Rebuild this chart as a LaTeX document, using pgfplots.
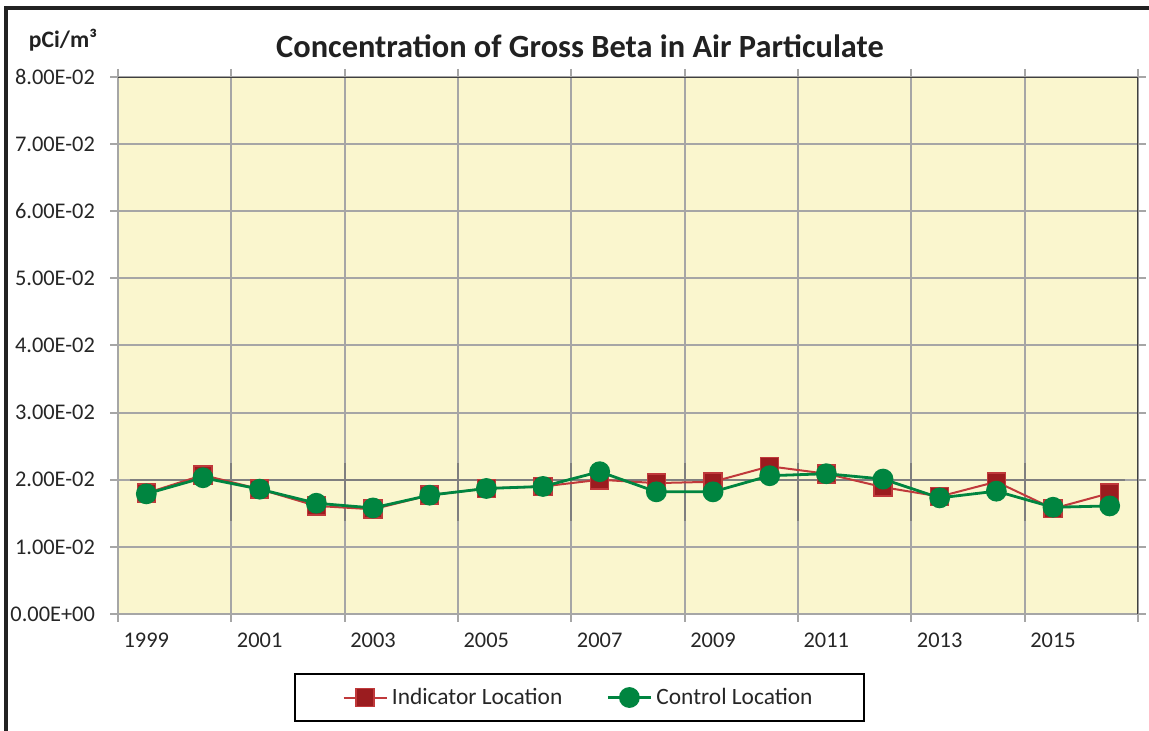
\documentclass[border=0pt]{standalone}
\usepackage{pgfplots}
\pgfplotsset{compat=1.18}
\usepackage{fontspec}
\setmainfont{Carlito}
\definecolor{bgyellow}{HTML}{FAF6CE}
\definecolor{gridgray}{HTML}{A6A6A6}
\definecolor{darkgridgray}{HTML}{7F7F7F}
\definecolor{redline}{HTML}{C0393B}
\definecolor{redfill}{HTML}{9B1C1F}
\definecolor{greenc}{HTML}{008540}
\definecolor{framec}{HTML}{222222}
\begin{document}
\begin{tikzpicture}
\path[use as bounding box] (-59pt,-58.5pt) rectangle (515.5pt,307pt);
\begin{axis}[
  at={(0,0)}, anchor=south west,
  scale only axis, width=510pt, height=268.5pt,
  xmin=1998.5, xmax=2016.5, ymin=0, ymax=0.08,
  scaled y ticks=false,
  xtick={1998.5,2000.5,2002.5,2004.5,2006.5,2008.5,2010.5,2012.5,2014.5,2016.5},
  xticklabels={},
  ytick={0,0.01,0.02,0.03,0.04,0.05,0.06,0.07,0.08},
  yticklabels={0.00E+00,1.00E-02,2.00E-02,3.00E-02,4.00E-02,5.00E-02,6.00E-02,7.00E-02,8.00E-02},
  extra x ticks={1999,2001,2003,2005,2007,2009,2011,2013,2015},
  extra x tick labels={1999,2001,2003,2005,2007,2009,2011,2013,2015},
  extra x tick style={grid=none, major tick length=0pt},
  grid=major,
  major grid style={line width=1pt, color=gridgray},
  axis line style={line width=1pt, color=gridgray},
  tick style={line width=1pt, color=gridgray},
  major tick length=4pt,
  tick align=outside,
  axis background/.style={fill=bgyellow},
  ticklabel style={font=\fontsize{11.2}{13}\selectfont, text=black!85},
  yticklabel style={anchor=east, xshift=-4pt},
  xticklabel style={anchor=north, yshift=-6pt},
  legend columns=2,
  legend style={at={(0.4525,-0.1555)}, anchor=center, draw=black, line width=1pt,
    font=\fontsize{11.7}{14}\selectfont, text=black!85,
    inner xsep=24pt, inner ysep=5pt,
    /tikz/every even column/.append style={column sep=20pt}},
  legend image code/.code={\draw[mark repeat=2,mark phase=2] plot coordinates {(0cm,0cm) (0.38cm,0cm) (0.76cm,0cm)};},
]
\draw[line width=1pt, darkgridgray] (axis cs:1998.71,0.02) -- (axis cs:2016.27,0.02);
\pgfplotsinvokeforeach{2000.5,2002.5,2004.5,2006.5,2008.5,2010.5,2012.5,2014.5}{
  \draw[line width=1pt, darkgridgray] (axis cs:#1,0.0225) -- (axis cs:#1,0.01385);
}
\draw[line width=1pt, black!75] (rel axis cs:0,1) -- (rel axis cs:1,1) -- (rel axis cs:1,0);
\addplot[color=redline, line width=1pt, mark=square*, mark size=4.5pt,
  mark options={fill=redfill, draw=redline, line width=0.8pt}]
  coordinates {(1999,0.0180) (2000,0.0207) (2001,0.0186) (2002,0.0161) (2003,0.0156)
  (2004,0.0177) (2005,0.0187) (2006,0.0190) (2007,0.0200) (2008,0.0195) (2009,0.0197)
  (2010,0.0220) (2011,0.0209) (2012,0.0189) (2013,0.0175) (2014,0.0197) (2015,0.0157) (2016,0.0180)};
\addlegendentry{Indicator Location}
\addplot[color=greenc, line width=1.4pt, mark=*, mark size=4.5pt,
  mark options={fill=greenc, draw=greenc}]
  coordinates {(1999,0.0179) (2000,0.0203) (2001,0.0186) (2002,0.0165) (2003,0.0158)
  (2004,0.0177) (2005,0.0187) (2006,0.0190) (2007,0.0212) (2008,0.0182) (2009,0.0182)
  (2010,0.0206) (2011,0.0209) (2012,0.0201) (2013,0.0173) (2014,0.0183) (2015,0.0159) (2016,0.0161)};
\addlegendentry{Control Location}
\end{axis}
\draw[line width=2pt, framec] (-56pt,-70pt) -- (-56pt,303pt) -- (530pt,303pt);
\node[font=\bfseries\fontsize{16.2}{19}\selectfont, text=black!87] at (231pt,284pt) {Concentration of Gross Beta in Air Particulate};
\node[font=\bfseries\fontsize{11.8}{14}\selectfont, text=black!87] at (-27.5pt,287pt) {pCi/m³};
\end{tikzpicture}
\end{document}
